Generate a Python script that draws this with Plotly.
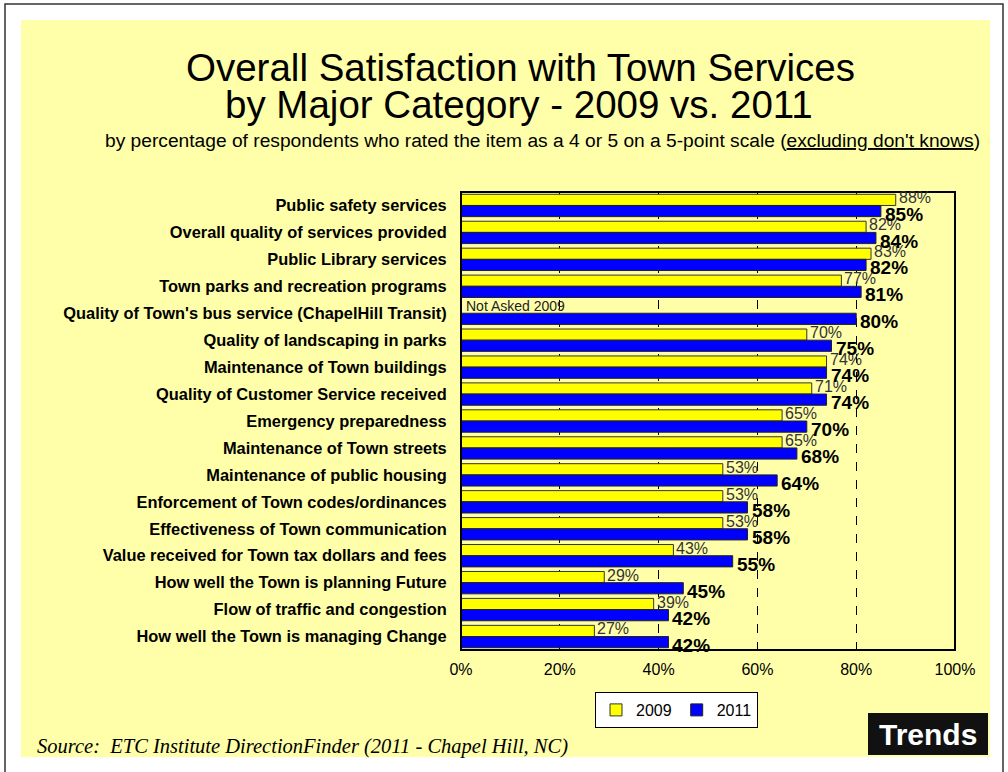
import plotly.graph_objects as go

# Survey items, top to bottom
categories = [
    "Public safety services",
    "Overall quality of services provided",
    "Public Library services",
    "Town parks and recreation programs",
    "Quality of Town's bus service (ChapelHill Transit)",
    "Quality of landscaping in parks",
    "Maintenance of Town buildings",
    "Quality of Customer Service received",
    "Emergency preparedness",
    "Maintenance of Town streets",
    "Maintenance of public housing",
    "Enforcement of Town codes/ordinances",
    "Effectiveness of Town communication",
    "Value received for Town tax dollars and fees",
    "How well the Town is planning Future",
    "Flow of traffic and congestion",
    "How well the Town is managing Change",
]
pct_2009 = [88, 82, 83, 77, None, 70, 74, 71, 65, 65, 53, 53, 53, 43, 29, 39, 27]
pct_2011 = [85, 84, 82, 81, 80, 75, 74, 74, 70, 68, 64, 58, 58, 55, 45, 42, 42]
x_ticks = [0, 20, 40, 60, 80, 100]
x_tick_labels = ["0%", "20%", "40%", "60%", "80%", "100%"]

W, H = 1008, 772
# plot area in pixels
L, R, T, B = 461, 955, 192, 650
FONT = "Liberation Sans, Arial, sans-serif"
BARGAP = 0.17


def px(xp):
    return (xp - L) / (R - L)


def py(yp):
    return (B - yp) / (B - T)


ypos = list(range(len(categories)))
half = (1 - BARGAP) / 4  # distance from category centre to each bar's centre

fig = go.Figure()
fig.add_trace(go.Bar(
    name="2009", orientation="h", y=ypos, x=pct_2009,
    marker=dict(color="#FFFF00", line=dict(color="#333333", width=1)),
))
fig.add_trace(go.Bar(
    name="2011", orientation="h", y=ypos, x=pct_2011,
    marker=dict(color="#0000FF", line=dict(color="#222222", width=1)),
))

shapes = [
    # page frame
    dict(type="rect", xref="paper", yref="paper", layer="below",
         x0=px(5), x1=px(1003), y0=py(800), y1=py(4),
         line=dict(color="#333333", width=1.5), fillcolor="white"),
    # pale yellow panel
    dict(type="rect", xref="paper", yref="paper", layer="below",
         x0=px(21), x1=px(990), y0=py(757), y1=py(20),
         line=dict(width=0), fillcolor="#FFFFAA"),
    # plot frame
    dict(type="rect", xref="paper", yref="paper", layer="above",
         x0=0, x1=1, y0=0, y1=1, line=dict(color="black", width=2)),
    # "Trends" badge
    dict(type="rect", xref="paper", yref="paper",
         x0=px(868), x1=px(988), y0=py(755), y1=py(713),
         line=dict(width=0), fillcolor="#111111"),
]

annotations = [
    dict(text="Overall Satisfaction with Town Services", x=px(520), y=py(67),
         font=dict(family=FONT, size=38.5, color="black")),
    dict(text="by Major Category - 2009 vs. 2011", x=px(519), y=py(104),
         font=dict(family=FONT, size=38.5, color="black")),
    dict(text="by percentage of respondents who rated the item as a 4 or 5 on a 5-point scale "
              "(<u>excluding don't knows</u>)", x=px(542), y=py(141),
         font=dict(family=FONT, size=19.2, color="black")),
    dict(text="Not Asked 2009", x=0, xanchor="left", xshift=3, y=4 - half, yshift=2,
         xref="x", yref="y", font=dict(family=FONT, size=14, color="#222222")),
    dict(text="Source:  ETC Institute DirectionFinder (2011 - Chapel Hill, NC)",
         x=px(35), xanchor="left", y=py(746),
         font=dict(family="Liberation Serif, Times New Roman, serif", size=20.5,
                   color="black", style="italic")),
    dict(text="<b>Trends</b>", x=px(928), y=py(734),
         font=dict(family=FONT, size=30, color="white")),
]

# value labels at the end of each bar
for i, v in enumerate(pct_2009):
    if v is not None:
        annotations.append(dict(
            text=f"{v}%", x=v, y=i - half, xref="x", yref="y",
            xanchor="left", xshift=1, yshift=2,
            font=dict(family=FONT, size=16, color="#333333")))
for i, v in enumerate(pct_2011):
    annotations.append(dict(
        text=f"<b>{v}%</b>", x=v, y=i + half, xref="x", yref="y",
        xanchor="left", xshift=2, yshift=-3,
        font=dict(family=FONT, size=19, color="black")))

for a in annotations:
    a.setdefault("xref", "paper")
    a.setdefault("yref", "paper")
    a.setdefault("showarrow", False)
    a.setdefault("yanchor", "middle")
    a.setdefault("xanchor", "center")

fig.update_layout(
    width=W, height=H,
    margin=dict(l=L, r=W - R, t=T, b=H - B, pad=0),
    paper_bgcolor="white", plot_bgcolor="white",
    barmode="group", bargap=BARGAP, bargroupgap=0,
    showlegend=True,
    legend=dict(orientation="h", x=px(595), y=py(692), xanchor="left", yanchor="top",
                bgcolor="white", bordercolor="black", borderwidth=1,
                font=dict(family=FONT, size=16, color="black"),
                itemwidth=30, traceorder="normal"),
    shapes=shapes, annotations=annotations,
    xaxis=dict(range=[0, 100], tickvals=x_ticks, ticktext=x_tick_labels,
               showgrid=True, gridcolor="black", gridwidth=1, griddash="dash",
               zeroline=False, showline=False, ticks="outside", ticklen=5,
               tickcolor="rgba(0,0,0,0)",
               tickfont=dict(family=FONT, size=16, color="black")),
    yaxis=dict(range=[len(categories) - 0.5, -0.5], tickvals=ypos, ticktext=categories,
               showgrid=False, zeroline=False, showline=False,
               ticks="outside", ticklen=10, tickcolor="rgba(0,0,0,0)",
               tickfont=dict(family=FONT, size=16.4, color="black", weight="bold")),
)

fig.write_html("out.html")
